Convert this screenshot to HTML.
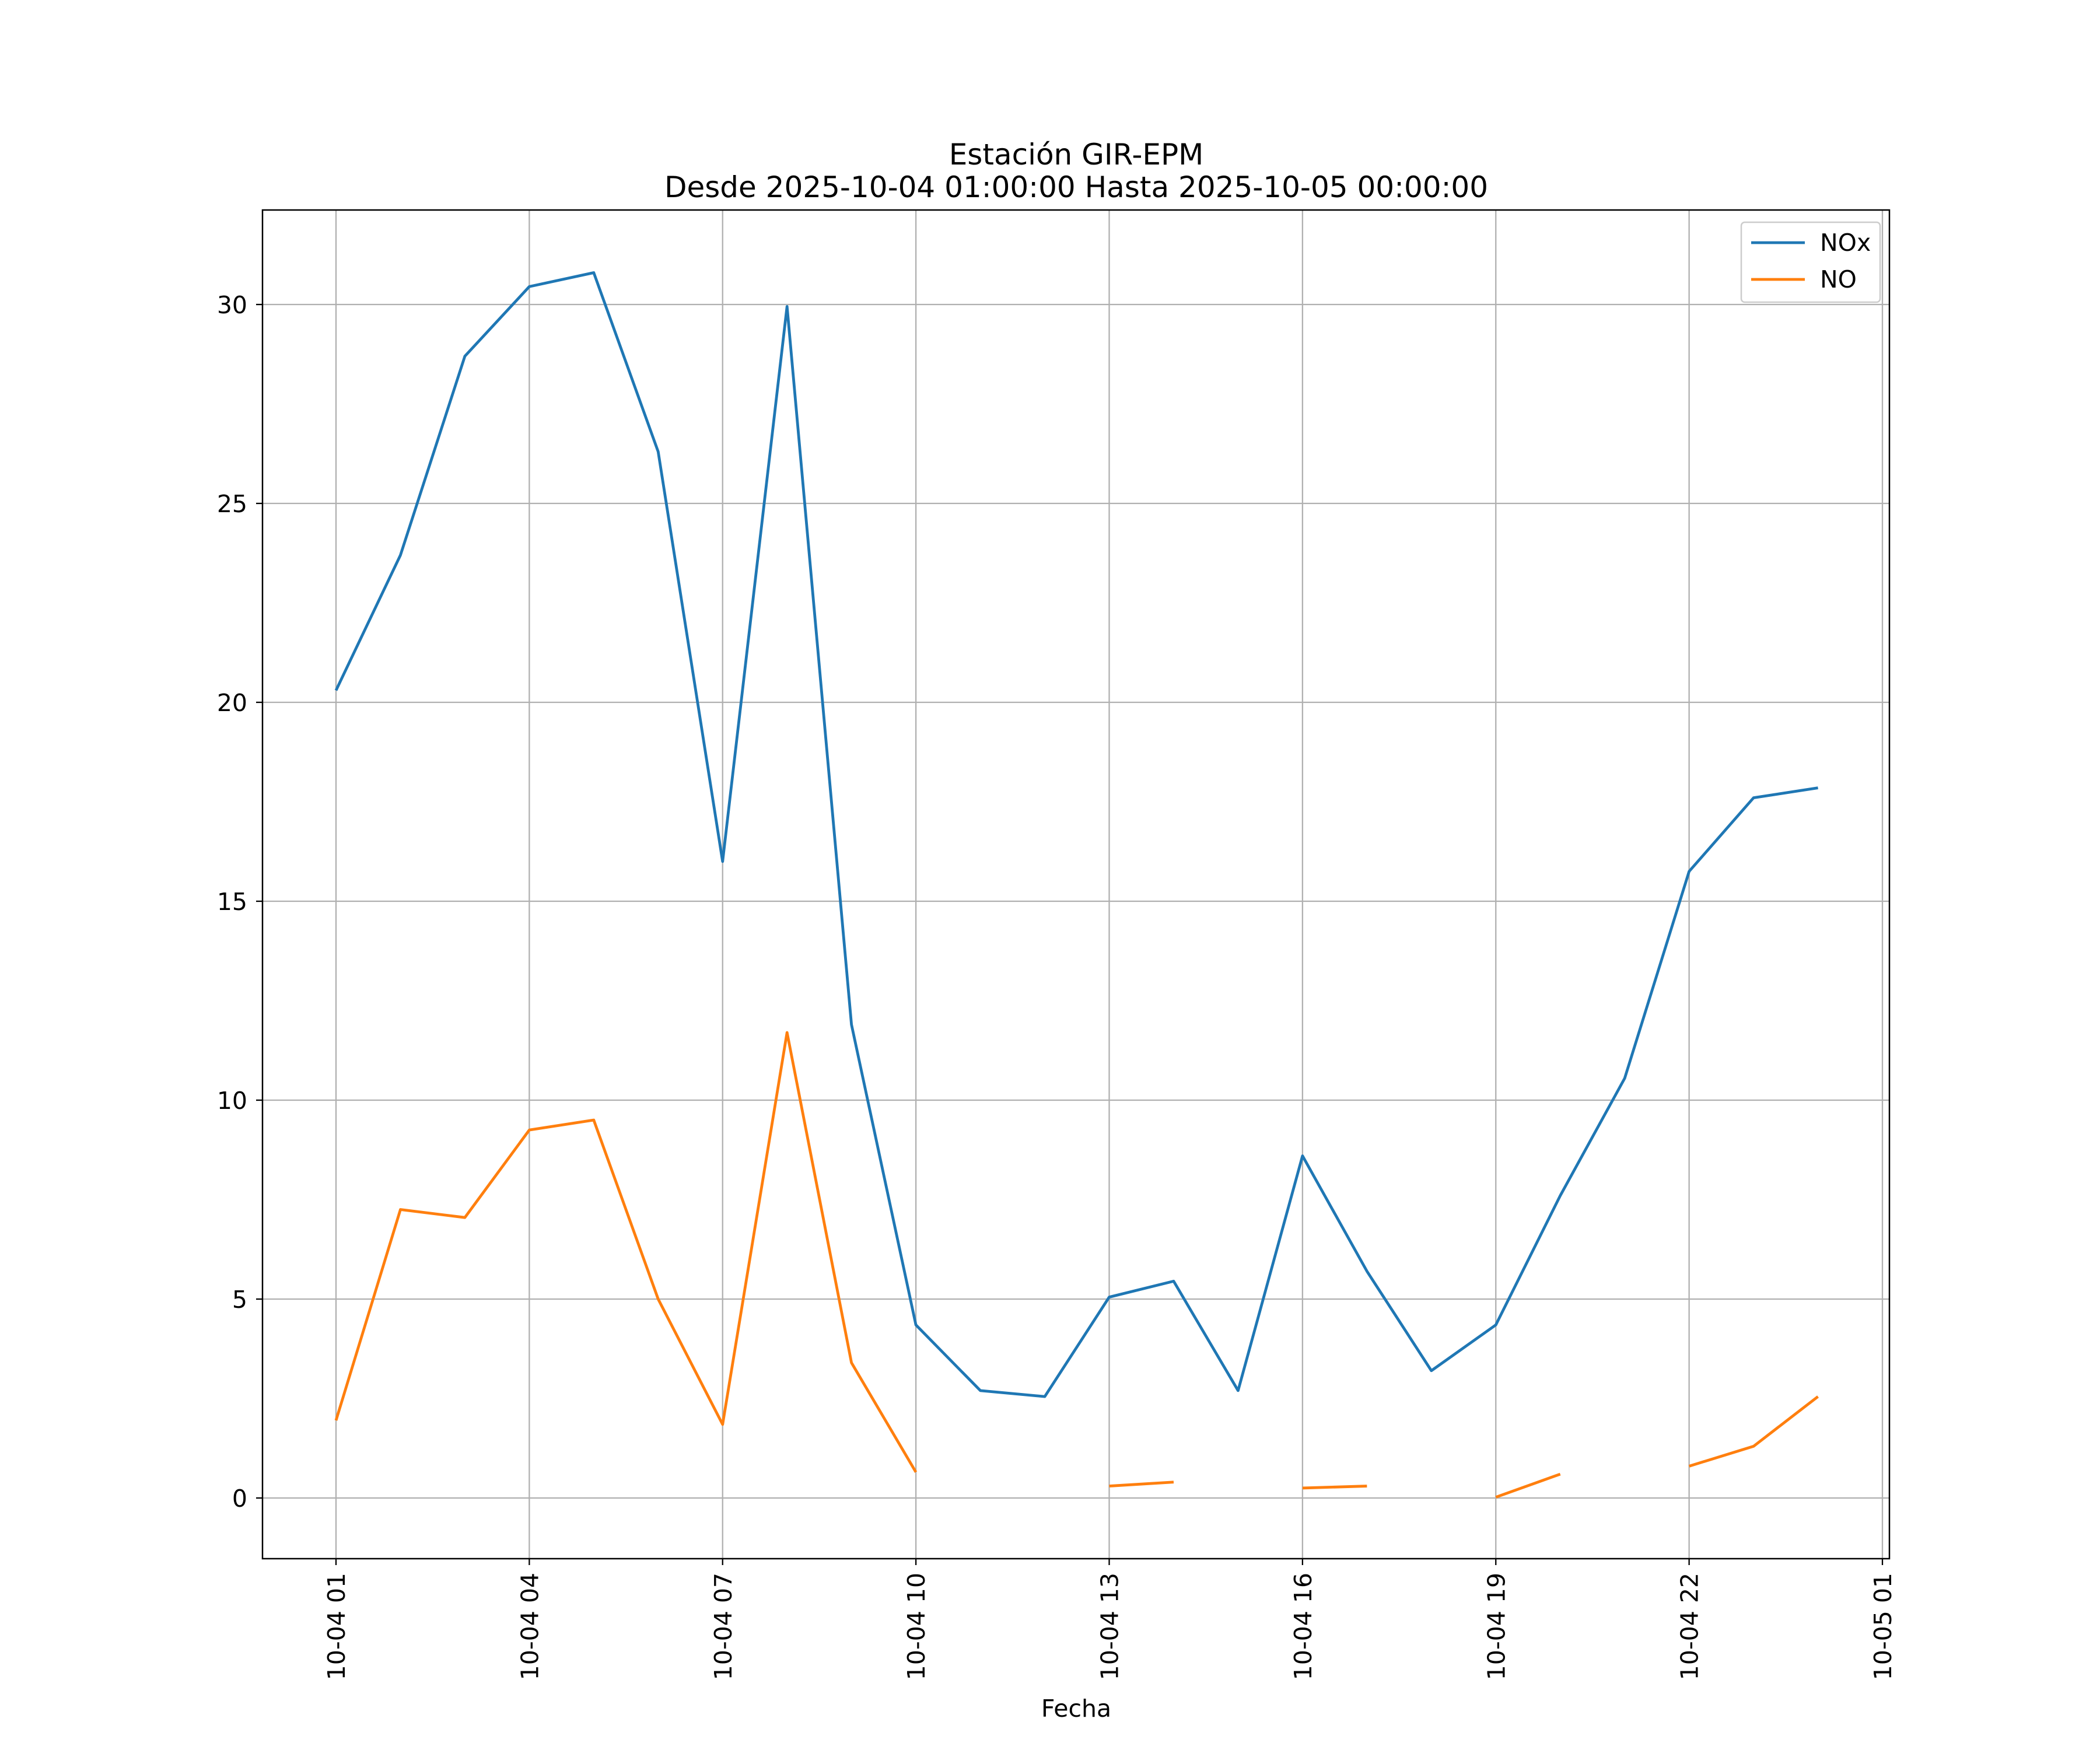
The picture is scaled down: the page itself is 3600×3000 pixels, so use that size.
<!DOCTYPE html>
<html><head><meta charset="utf-8"><style>
html,body{margin:0;padding:0;background:#fff}
svg{display:block;font-family:"DejaVu Sans","Liberation Sans",sans-serif}
</style></head><body>
<svg id="c" width="3600" height="3000" viewBox="0 0 3600 3000">
<rect width="3600" height="3000" fill="#fff"/>
<text x="1845" y="282" font-size="50" text-anchor="middle">Estación GIR-EPM</text>
<text x="1845" y="338" font-size="50" text-anchor="middle">Desde 2025-10-04 01:00:00 Hasta 2025-10-05 00:00:00</text>
<g id="grid"></g>
<g id="series"></g>
<rect x="450" y="360" width="2789" height="2312" fill="none" stroke="#000" stroke-width="2.5"/>
<g id="axes"></g>
<text x="1845" y="2943" font-size="41" text-anchor="middle">Fecha</text>
<g>
<rect x="2985" y="381" width="238" height="137" rx="6" fill="#fff" fill-opacity="0.8" stroke="#ccc" stroke-width="2.5"/>
<line x1="3002" y1="416" x2="3094" y2="416" stroke="#1f77b4" stroke-width="4.8"/>
<text x="3120" y="430" font-size="41">NOx</text>
<line x1="3002" y1="479" x2="3094" y2="479" stroke="#ff7f0e" stroke-width="4.8"/>
<text x="3120" y="493" font-size="41">NO</text>
</g>
</svg>
<script>
const hours = [1,2,3,4,5,6,7,8,9,10,11,12,13,14,15,16,17,18,19,20,21,22,23,24];
const noxValues = [20.3,23.7,28.7,30.45,30.8,26.3,16.0,29.95,11.9,4.35,2.7,2.55,5.05,5.45,2.7,8.6,5.7,3.2,4.35,7.6,10.55,15.75,17.6,17.85];
const noValues = [1.95,7.25,7.05,9.25,9.5,5.0,1.85,11.7,3.4,0.65,null,null,0.3,0.4,null,0.25,0.3,null,0.02,0.6,null,0.8,1.3,2.55];
const yTicks = [0,5,10,15,20,25,30];
const xTickHours = [1,4,7,10,13,16,19,22,25];
const xTickLabels = ["10-04 01","10-04 04","10-04 07","10-04 10","10-04 13","10-04 16","10-04 19","10-04 22","10-05 01"];

const NS="http://www.w3.org/2000/svg";
function xs(h){return 576+(h-1)*(3227-576)/24;}
function ys(v){return 2568-v*(2568-522)/30;}
function mk(tag,attrs,parent){const e=document.createElementNS(NS,tag);for(const k in attrs)e.setAttribute(k,attrs[k]);parent.appendChild(e);return e;}
const grid=document.getElementById('grid'),axes=document.getElementById('axes'),series=document.getElementById('series');
yTicks.forEach(t=>{
  const y=ys(t);
  const g=mk('line',{x1:450,x2:3239,y1:y,y2:y,stroke:'#b0b0b0','stroke-width':2.3},grid);
  
  
  const tk=mk('line',{x1:439,x2:450,y1:y,y2:y,stroke:'#000','stroke-width':2.3},axes);
  
  
  const tx=mk('text',{x:424,y:y+15,'font-size':41,'text-anchor':'end'},axes);
  tx.textContent=t;
  
  
});
xTickHours.forEach((h,i)=>{
  const x=xs(h);
  const g=mk('line',{x1:x,x2:x,y1:360,y2:2672,stroke:'#b0b0b0','stroke-width':2.3},grid);
  
  
  const tk=mk('line',{x1:x,x2:x,y1:2672,y2:2683,stroke:'#000','stroke-width':2.3},axes);
  
  
  const tx=mk('text',{x:0,y:0,'font-size':41,'text-anchor':'end',transform:`translate(${x+15},2696) rotate(-90)`},axes);
  tx.textContent=xTickLabels[i];
  
  
});
function drawSeries(vals,color,name){
  let seg=[];const segs=[];
  vals.forEach((v,i)=>{if(v===null){if(seg.length)segs.push(seg);seg=[];}else seg.push(xs(hours[i])+','+ys(v));});
  if(seg.length)segs.push(seg);
  segs.forEach(s=>{
    const p=mk('polyline',{points:s.join(' '),fill:'none',stroke:color,'stroke-width':4.8,'stroke-linejoin':'round'},series);
    
    
  });
}
drawSeries(noxValues,'#1f77b4','nox-line');
drawSeries(noValues,'#ff7f0e','no-line');
</script>
</body></html>
